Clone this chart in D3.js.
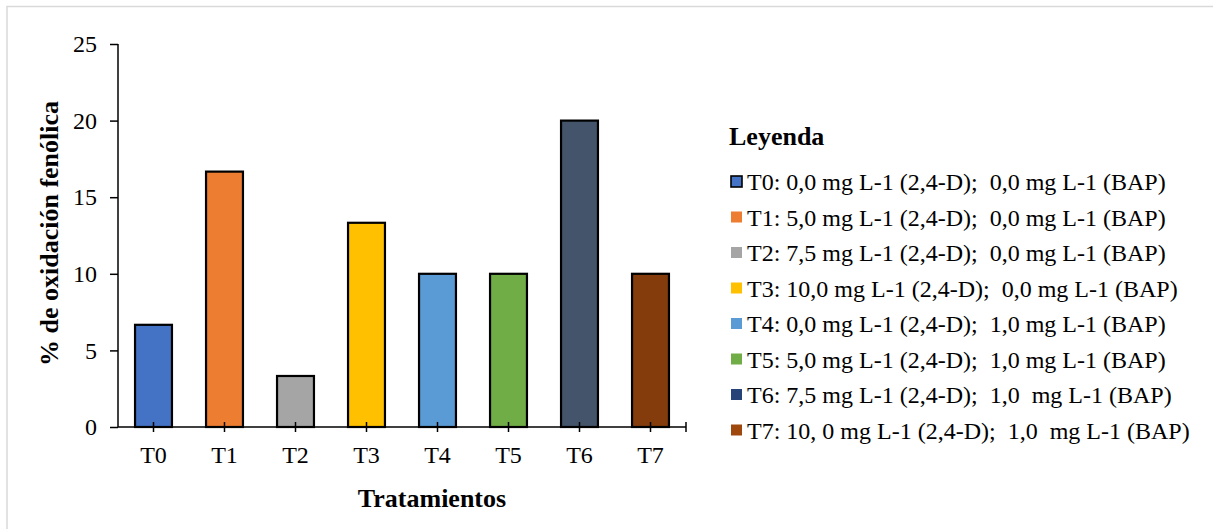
<!DOCTYPE html>
<html>
<head>
<meta charset="utf-8">
<script src="https://cdn.jsdelivr.net/npm/d3@7"></script>
<style>
  html, body { margin: 0; padding: 0; background: #fff; }
  svg { display: block; font-family: "Liberation Serif", "Times New Roman", serif; }
</style>
</head>
<body>
<svg id="chart" width="1213" height="529"></svg>
<script>
// Treatments and % phenolic oxidation
const categories = ["T0", "T1", "T2", "T3", "T4", "T5", "T6", "T7"];
const values = [6.67, 16.67, 3.33, 13.33, 10, 10, 20, 10];
const barColors = ["#4472C4", "#ED7D31", "#A5A5A5", "#FFC000", "#5B9BD5", "#70AD47", "#44546A", "#843C0C"];
const legendColors = ["#4472C4", "#ED7D31", "#A5A5A5", "#FFC000", "#5B9BD5", "#70AD47", "#264478", "#9E480E"];
const legendLabels = [
  "T0: 0,0 mg L-1 (2,4-D);  0,0 mg L-1 (BAP)",
  "T1: 5,0 mg L-1 (2,4-D);  0,0 mg L-1 (BAP)",
  "T2: 7,5 mg L-1 (2,4-D);  0,0 mg L-1 (BAP)",
  "T3: 10,0 mg L-1 (2,4-D);  0,0 mg L-1 (BAP)",
  "T4: 0,0 mg L-1 (2,4-D);  1,0 mg L-1 (BAP)",
  "T5: 5,0 mg L-1 (2,4-D);  1,0 mg L-1 (BAP)",
  "T6: 7,5 mg L-1 (2,4-D);  1,0  mg L-1 (BAP)",
  "T7: 10, 0 mg L-1 (2,4-D);  1,0  mg L-1 (BAP)"
];
const yTicks = [0, 5, 10, 15, 20, 25];

const svg = d3.select("#chart");

// chart area frame
svg.append("rect")
  .attr("x", 7).attr("y", 6.5)
  .attr("width", 1400).attr("height", 700)
  .attr("fill", "none").attr("stroke", "#d9d9d9").attr("stroke-width", 1.5);

const x = d3.scaleBand().domain(categories).range([118, 686]).paddingInner(0.48).paddingOuter(0.24);
const y = d3.scaleLinear().domain([0, 25]).range([427, 44]);

// bars
svg.append("g").selectAll("rect")
  .data(categories)
  .join("rect")
  .attr("x", d => x(d))
  .attr("y", (d, i) => y(values[i]))
  .attr("width", x.bandwidth())
  .attr("height", (d, i) => y(0) - y(values[i]))
  .attr("fill", (d, i) => barColors[i])
  .attr("stroke", "#000")
  .attr("stroke-width", 2.2);

// y axis
const yAxis = svg.append("g")
  .attr("transform", "translate(118,0)")
  .call(d3.axisLeft(y).tickValues(yTicks).tickSize(8).tickPadding(13).tickFormat(d3.format("d")));
yAxis.select(".domain").attr("stroke", "#000").attr("stroke-width", 1.5).attr("d", `M0,${y(25)}V${y(0)}`);
yAxis.selectAll(".tick line").attr("stroke", "#000").attr("stroke-width", 1.5);
yAxis.selectAll(".tick text")
  .attr("font-family", "Liberation Serif, Times New Roman, serif")
  .attr("font-size", 24).attr("fill", "#000");

// x axis
const xAxis = svg.append("g")
  .attr("transform", `translate(0,${y(0)})`)
  .call(d3.axisBottom(x).tickSize(0).tickPadding(0));
xAxis.select(".domain").attr("stroke", "#000").attr("stroke-width", 1.5).attr("d", "M118,0H686");
xAxis.selectAll(".tick line").attr("stroke", "#000").attr("stroke-width", 1.5).attr("y1", -5).attr("y2", 5);
xAxis.selectAll(".tick text")
  .attr("font-family", "Liberation Serif, Times New Roman, serif")
  .attr("font-size", 24).attr("fill", "#000")
  .attr("dy", null).attr("y", 36);
xAxis.append("line").attr("x1", 686).attr("x2", 686).attr("y1", -5).attr("y2", 5)
  .attr("stroke", "#000").attr("stroke-width", 1.5);

// axis titles
svg.append("text")
  .attr("transform", "translate(58,233.5) rotate(-90)")
  .attr("text-anchor", "middle")
  .attr("font-weight", "bold").attr("font-size", 26)
  .text("% de oxidación fenólica");

svg.append("text")
  .attr("x", 432).attr("y", 507)
  .attr("text-anchor", "middle")
  .attr("font-weight", "bold").attr("font-size", 26)
  .text("Tratamientos");

// legend
const legend = svg.append("g");
legend.append("text")
  .attr("x", 729).attr("y", 145)
  .attr("font-weight", "bold").attr("font-size", 26)
  .text("Leyenda");

const rows = legend.selectAll("g.row")
  .data(legendLabels)
  .join("g")
  .attr("class", "row")
  .attr("transform", (d, i) => `translate(0,${190 + i * 35.5})`);

rows.append("rect")
  .attr("x", 731).attr("y", -14)
  .attr("width", 11).attr("height", 11)
  .attr("fill", (d, i) => legendColors[i])
  .attr("stroke", (d, i) => i === 0 ? "#000" : "none")
  .attr("stroke-width", 1.6);

rows.append("text")
  .attr("x", 747).attr("y", 0)
  .attr("font-size", 24)
  .style("white-space", "pre")
  .text(d => d);
</script>
</body>
</html>
